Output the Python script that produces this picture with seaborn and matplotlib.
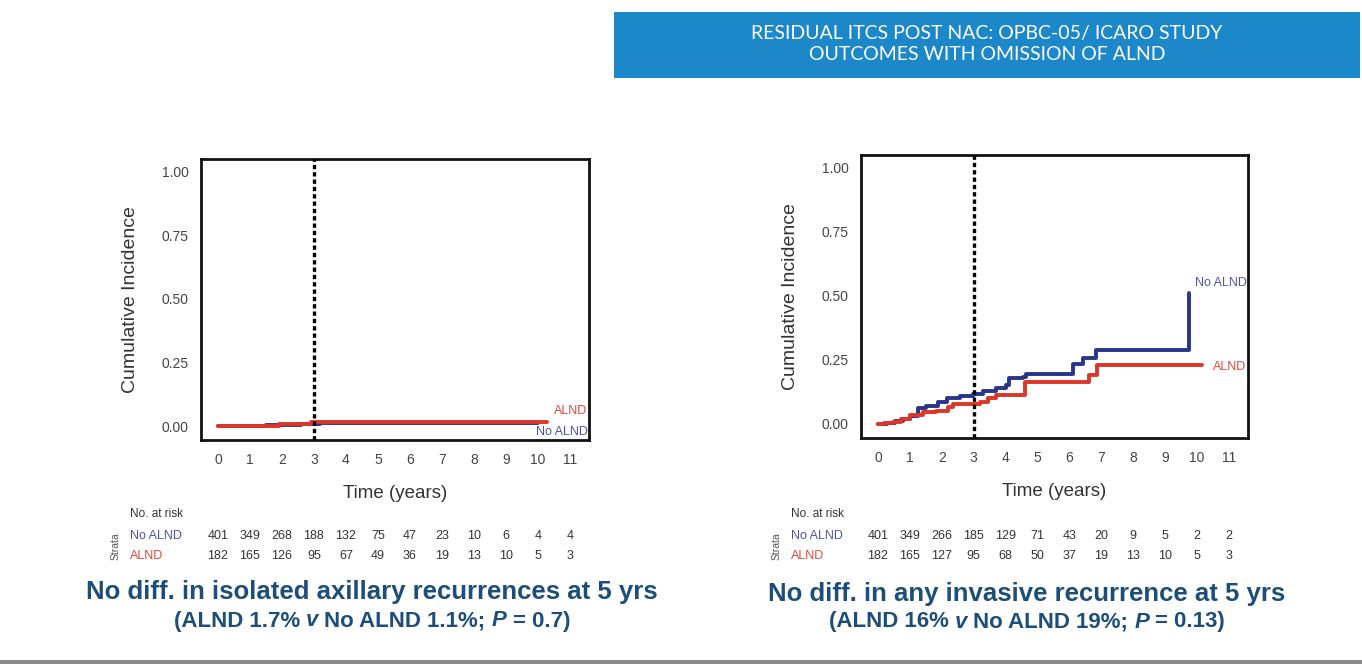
import matplotlib
matplotlib.use("Agg")
import matplotlib.pyplot as plt
import matplotlib.transforms as mtransforms
from matplotlib.patches import Rectangle
import pandas as pd
import seaborn as sns

# ---------------- data ----------------
years = list(range(12))
groups = ["No ALND", "ALND"]

# isolated axillary recurrence (left panel)
left_no_t = [0, 1.5, 2.6, 3.2, 10.0]
left_no_ci = [0, 0.003, 0.006, 0.011, 0.011]
left_alnd_t = [0, 1.0, 1.9, 2.9, 10.3]
left_alnd_ci = [0, 0.002, 0.008, 0.017, 0.017]

# any invasive recurrence (right panel)
right_no_t = [0, 0.3, 0.55, 0.8, 1.0, 1.25, 1.52, 1.87, 2.15, 2.56, 2.97, 3.28,
              3.71, 4.02, 4.12, 4.54, 4.65, 6.1, 6.42, 6.83, 9.75]
right_no_ci = [0, 0.004, 0.012, 0.02, 0.032, 0.061, 0.071, 0.084, 0.1, 0.11, 0.116,
               0.129, 0.14, 0.151, 0.178, 0.183, 0.194, 0.235, 0.258, 0.287, 0.513]
right_alnd_t = [0, 0.2, 0.48, 0.73, 1.0, 1.42, 1.83, 2.2, 2.35, 3.19, 3.45, 3.71,
                4.6, 6.63, 6.88, 10.17]
right_alnd_ci = [0, 0.004, 0.009, 0.019, 0.035, 0.045, 0.052, 0.065, 0.078, 0.087,
                 0.1, 0.113, 0.163, 0.19, 0.229, 0.229]

# numbers at risk
left_risk_no = [401, 349, 268, 188, 132, 75, 47, 23, 10, 6, 4, 4]
left_risk_alnd = [182, 165, 126, 95, 67, 49, 36, 19, 13, 10, 5, 3]
right_risk_no = [401, 349, 266, 185, 129, 71, 43, 20, 9, 5, 2, 2]
right_risk_alnd = [182, 165, 127, 95, 68, 50, 37, 19, 13, 10, 5, 3]

header_lines = ["RESIDUAL ITCS POST NAC: OPBC-05/ ICARO STUDY",
                "OUTCOMES WITH OMISSION OF ALND"]
left_caption = "No diff. in isolated axillary recurrences at 5 yrs"
left_sub = [("(ALND 1.7%", "normal"), ("v", "italic"), ("No ALND 1.1%;", "normal"),
            ("P", "italic"), ("= 0.7)", "normal")]
right_caption = "No diff. in any invasive recurrence at 5 yrs"
right_sub = [("(ALND 16%", "normal"), ("v", "italic"), ("No ALND 19%;", "normal"),
             ("P", "italic"), ("= 0.13)", "normal")]

# ---------------- style ----------------
sns.set_style("white")
plt.rcParams["font.family"] = ["Liberation Sans", "DejaVu Sans"]
BLUE = "#27368a"
RED = "#dd3528"
BLUE_TXT = "#4b55a3"
RED_TXT = "#e0473a"
CAP = "#1d4e7a"
palette = {"No ALND": BLUE, "ALND": RED}

W, H = 1362, 664
fig = plt.figure(figsize=(W / 100, H / 100), dpi=100)
fig.patch.set_facecolor("white")


def px_axes(x0, y0, x1, y1):
    return fig.add_axes([x0 / W, 1 - y1 / H, (x1 - x0) / W, (y1 - y0) / H])


def make_df(no_t, no_ci, al_t, al_ci):
    d1 = pd.DataFrame({"time": no_t, "ci": no_ci, "group": "No ALND"})
    d2 = pd.DataFrame({"time": al_t, "ci": al_ci, "group": "ALND"})
    return pd.concat([d1, d2], ignore_index=True)


def panel(ax, df, label_pos):
    sns.lineplot(data=df, x="time", y="ci", hue="group", hue_order=groups,
                 palette=palette, estimator=None, drawstyle="steps-post",
                 linewidth=2.8, legend=False, ax=ax)
    ax.axvline(3, color="black", linestyle=(0, (1.3, 0.9)), linewidth=2.4, zorder=5)
    ax.set_xlim(-0.53, 11.6)
    ax.set_ylim(-0.055, 1.05)
    ax.set_xticks(years)
    ax.set_yticks([0, 0.25, 0.5, 0.75, 1.0])
    ax.set_yticklabels(["0.00", "0.25", "0.50", "0.75", "1.00"])
    for s in ax.spines.values():
        s.set_linewidth(2.0)
        s.set_color("#111111")
    ax.tick_params(axis="both", direction="out", length=4, width=1.4,
                   labelsize=10, labelcolor="#444444", color="#222222", pad=5)
    ax.set_xlabel("Time (years)", fontsize=13.5, color="#333333", labelpad=13)
    ax.set_ylabel("Cumulative Incidence", fontsize=14, color="#333333", labelpad=16)
    for name, (x, y) in label_pos.items():
        ax.text(x, y, name, ha="right", va="center", fontsize=9,
                color=BLUE_TXT if name == "No ALND" else RED_TXT)


def risk_table(ax, lab_x, no_vals, al_vals):
    tr = mtransforms.blended_transform_factory(ax.transData, fig.transFigure)
    fig.text(lab_x / W, 1 - 514 / H, "No. at risk", fontsize=8.5, color="#333333",
             va="center", ha="left")
    fig.text((lab_x - 14) / W, 1 - 546 / H, "Strata", fontsize=7.5, color="#555555",
             va="center", ha="center", rotation=90)
    fig.text(lab_x / W, 1 - 536 / H, "No ALND", fontsize=9, color=BLUE_TXT,
             va="center", ha="left")
    fig.text(lab_x / W, 1 - 556 / H, "ALND", fontsize=9, color=RED_TXT,
             va="center", ha="left")
    for yr, a, b in zip(years, no_vals, al_vals):
        ax.text(yr, 1 - 536 / H, str(a), transform=tr, fontsize=9, color="#333333",
                ha="center", va="center")
        ax.text(yr, 1 - 556 / H, str(b), transform=tr, fontsize=9, color="#333333",
                ha="center", va="center")


def caption(xc, y1, y2, main, parts):
    fig.text(xc / W, 1 - y1 / H, main, fontsize=18.5, fontweight="bold", color=CAP,
             ha="center", va="center")
    r = fig.canvas.get_renderer()
    kw = dict(fontsize=16, fontweight="bold", color=CAP, va="center", ha="left")
    probe_a = fig.text(0, 0, "xx", **kw)
    probe_b = fig.text(0, 0, "x x", **kw)
    gap = probe_b.get_window_extent(r).width - probe_a.get_window_extent(r).width
    probe_a.remove()
    probe_b.remove()
    items = []
    for s, st in parts:
        t = fig.text(0, 0, s, fontstyle=st, **kw)
        items.append((t, t.get_window_extent(r).width))
    total = sum(w for _, w in items) + gap * (len(items) - 1)
    x = xc - total / 2
    for t, w in items:
        t.set_position((x / W, 1 - y2 / H))
        x += w + gap


# ---------------- panels ----------------
ax1 = px_axes(201, 159, 589, 440)
panel(ax1, make_df(left_no_t, left_no_ci, left_alnd_t, left_alnd_ci),
      {"ALND": (11.55, 0.058), "No ALND": (11.55, -0.025)})
risk_table(ax1, 130, left_risk_no, left_risk_alnd)

ax2 = px_axes(861, 155, 1248, 438)
panel(ax2, make_df(right_no_t, right_no_ci, right_alnd_t, right_alnd_ci),
      {"No ALND": (11.55, 0.55), "ALND": (11.55, 0.222)})
risk_table(ax2, 791, right_risk_no, right_risk_alnd)

# ---------------- header box ----------------
fig.patches.append(Rectangle((614 / W, 1 - 78 / H), (1360 - 614) / W, 66 / H,
                             transform=fig.transFigure, facecolor="#1c87c9",
                             edgecolor="none", zorder=0))
for i, line in enumerate(header_lines):
    fig.text(987 / W, 1 - (33 + 22 * i) / H, line, fontsize=14, color="white",
             family=["Lato", "DejaVu Sans"], ha="center", va="center")

# ---------------- captions ----------------
caption(372, 592, 621, left_caption, left_sub)
caption(1027, 594, 622, right_caption, right_sub)

# thin grey border at the bottom edge
fig.patches.append(Rectangle((0, 0), 1, 4 / H, transform=fig.transFigure,
                             facecolor="#8a8a8a", edgecolor="none"))

fig.savefig("out.png", dpi=100)
